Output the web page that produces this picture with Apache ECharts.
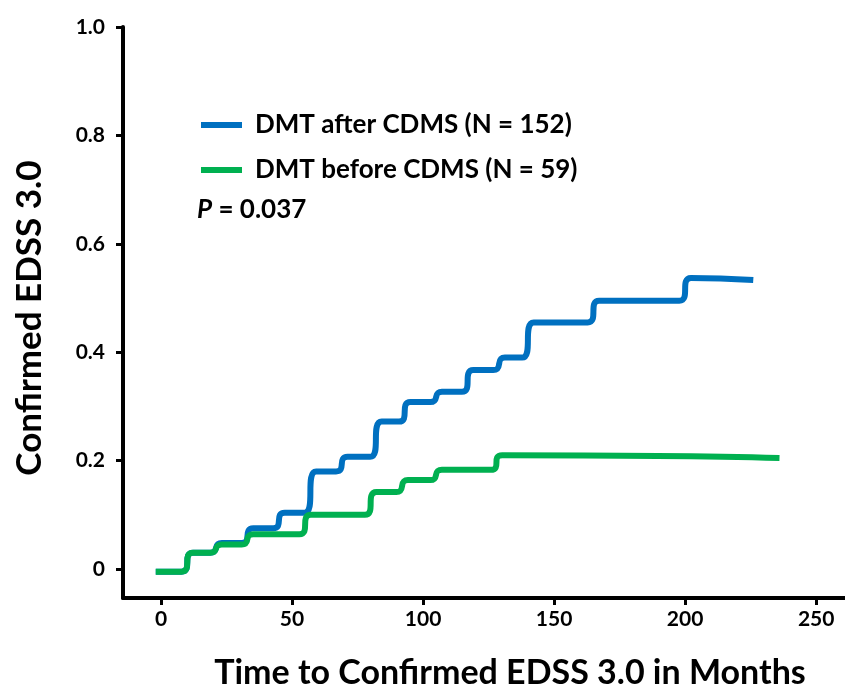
<!DOCTYPE html>
<html>
<head>
<meta charset="utf-8">
<script src="https://cdn.jsdelivr.net/npm/echarts@6/dist/echarts.min.js"></script>
<style>
  html, body { margin: 0; padding: 0; background: #fff; }
  #chart { width: 845px; height: 691px; }
</style>
</head>
<body>
<div id="chart"></div>
<script>
// Curvas de Kaplan-Meier (lectura aproximada de la figura)
const xTicks = [0, 50, 100, 150, 200, 250];
const yTicks = [0, 0.2, 0.4, 0.6, 0.8, 1.0];

const afterName = "DMT after CDMS (N = 152)";
const afterStart = [-2, -0.005];
const afterStepMonths = [10, 21, 33, 45, 57, 69, 82, 93, 105, 117, 129, 140, 165, 200];
const afterStepValues = [0.03, 0.048, 0.075, 0.104, 0.18, 0.207, 0.272, 0.308, 0.327, 0.367, 0.39, 0.455, 0.495, 0.537];
const afterEnd = [226, 0.533];

const beforeName = "DMT before CDMS (N = 59)";
const beforeStart = [-2, -0.005];
const beforeStepMonths = [10, 21, 33, 55, 80, 92, 105, 128];
const beforeStepValues = [0.03, 0.045, 0.064, 0.1, 0.142, 0.164, 0.183, 0.21];
const beforeEnd = [236, 0.205];

const pValue = "0.037";

// arma la escalera: cada evento = punto antes y después del salto
// (se abre un poco en x para que el suavizado redondee las esquinas)
const HALF = 2.2;
function stairs(start, months, values, end) {
  const pts = [start];
  let prev = start[1];
  months.forEach((m, i) => {
    pts.push([m - HALF, prev]);
    pts.push([m + HALF, values[i]]);
    prev = values[i];
  });
  pts.push(end);
  return pts;
}

const FONT = "Lato";
const chart = echarts.init(document.getElementById("chart"));

chart.setOption({
  animation: false,
  grid: { left: 123, right: 0, top: 27, bottom: 93 },
  legend: {
    orient: "vertical",
    left: 196,
    top: 107,
    itemWidth: 41,
    itemHeight: 6,
    itemGap: 19,
    icon: "rect",
    selectedMode: false,
    textStyle: {
      fontFamily: FONT,
      fontWeight: "bold",
      fontSize: 26,
      color: "#000",
      padding: [0, 0, 0, 8],
    },
    data: [afterName, beforeName],
  },
  xAxis: {
    type: "value",
    min: -14.5,
    max: 261,
    splitLine: { show: false },
    axisLine: { show: true, onZero: false, lineStyle: { color: "#000", width: 4 } },
    axisTick: { show: true, customValues: xTicks, length: 7, lineStyle: { color: "#000", width: 3 } },
    axisLabel: {
      customValues: xTicks,
      margin: 11,
      fontFamily: FONT,
      fontWeight: "bold",
      fontSize: 21,
      color: "#000",
    },
  },
  yAxis: {
    type: "value",
    min: -0.0535,
    max: 1.0,
    splitLine: { show: false },
    axisLine: { show: true, onZero: false, lineStyle: { color: "#000", width: 4 } },
    axisTick: { show: true, customValues: yTicks, length: 7, lineStyle: { color: "#000", width: 3 } },
    axisLabel: {
      customValues: yTicks,
      margin: 18,
      fontFamily: FONT,
      fontWeight: "bold",
      fontSize: 21,
      color: "#000",
      formatter: (v) => (v === 0 ? "0" : v.toFixed(1)),
    },
  },
  graphic: [
    {
      type: "text",
      left: 197,
      top: 197,
      style: {
        text: "{i|P} = " + pValue,
        fontFamily: FONT,
        fontWeight: "bold",
        fontSize: 26,
        fill: "#000",
        rich: { i: { fontStyle: "italic", fontWeight: "bold", fontSize: 26, fontFamily: FONT } },
      },
    },
    {
      type: "text",
      x: 30,
      y: 318,
      rotation: Math.PI / 2,
      style: {
        text: "Confirmed EDSS 3.0",
        fontFamily: FONT,
        fontWeight: "bold",
        fontSize: 35,
        fill: "#000",
        align: "center",
        verticalAlign: "middle",
      },
    },
    {
      type: "text",
      x: 510,
      y: 673,
      style: {
        text: "Time to Confirmed EDSS 3.0 in Months",
        fontFamily: FONT,
        fontWeight: "bold",
        fontSize: 34,
        fill: "#000",
        align: "center",
        verticalAlign: "middle",
      },
    },
  ],
  series: [
    {
      name: afterName,
      type: "line",
      data: stairs(afterStart, afterStepMonths, afterStepValues, afterEnd),
      smooth: 0.7,
      showSymbol: false,
      lineStyle: { color: "#0070C0", width: 6 },
      itemStyle: { color: "#0070C0" },
    },
    {
      name: beforeName,
      type: "line",
      data: stairs(beforeStart, beforeStepMonths, beforeStepValues, beforeEnd),
      smooth: 0.7,
      showSymbol: false,
      lineStyle: { color: "#00B050", width: 6 },
      itemStyle: { color: "#00B050" },
    },
  ],
});
</script>
</body>
</html>
